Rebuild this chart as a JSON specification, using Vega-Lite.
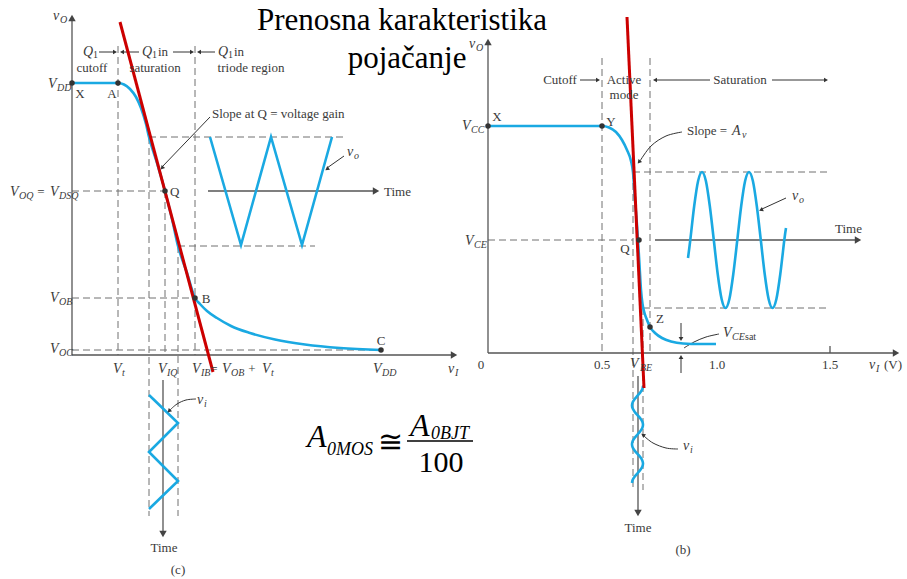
{
"$schema": "https://vega.github.io/schema/vega-lite/v6.json",
"width": 907, "height": 579,
"autosize": {"type": "fit", "contains": "padding"},
"padding": 0,
"background": "white",
"config": {"view": {"stroke": null}, "text": {"font": "'Liberation Serif', 'Times New Roman', 'DejaVu Serif', serif"}},
"datasets": {
"lines": [
{"g":"axis","id":"ay1","i":0,"x":72,"y":355},{"g":"axis","id":"ay1","i":1,"x":72,"y":17},
{"g":"axis","id":"ax1","i":0,"x":72,"y":355},{"g":"axis","id":"ax1","i":1,"x":455,"y":355},
{"g":"axis","id":"at1","i":0,"x":208,"y":191},{"g":"axis","id":"at1","i":1,"x":377,"y":191},
{"g":"axis","id":"av1","i":0,"x":163,"y":380},{"g":"axis","id":"av1","i":1,"x":163,"y":535},
{"g":"axis","id":"ay2","i":0,"x":488,"y":353},{"g":"axis","id":"ay2","i":1,"x":488,"y":41},
{"g":"axis","id":"ax2","i":0,"x":488,"y":353},{"g":"axis","id":"ax2","i":1,"x":897,"y":353},
{"g":"axis","id":"at2","i":0,"x":655,"y":240},{"g":"axis","id":"at2","i":1,"x":859,"y":240},
{"g":"axis","id":"av2","i":0,"x":638,"y":376},{"g":"axis","id":"av2","i":1,"x":638,"y":514},
{"g":"axis","id":"tk","i":0,"x":830,"y":353},{"g":"axis","id":"tk","i":1,"x":830,"y":346},
{"g":"dash","id":"d1","i":0,"x":118,"y":46},{"g":"dash","id":"d1","i":1,"x":118,"y":355},
{"g":"dash","id":"d2","i":0,"x":195,"y":46},{"g":"dash","id":"d2","i":1,"x":195,"y":355},
{"g":"dash","id":"d3","i":0,"x":72,"y":191},{"g":"dash","id":"d3","i":1,"x":163,"y":191},
{"g":"dash","id":"d4","i":0,"x":72,"y":298},{"g":"dash","id":"d4","i":1,"x":195,"y":298},
{"g":"dash","id":"d5","i":0,"x":72,"y":350},{"g":"dash","id":"d5","i":1,"x":381,"y":350},
{"g":"dash","id":"d6","i":0,"x":165,"y":191},{"g":"dash","id":"d6","i":1,"x":165,"y":355},
{"g":"dash","id":"d7","i":0,"x":149,"y":137},{"g":"dash","id":"d7","i":1,"x":149,"y":516},
{"g":"dash","id":"d8","i":0,"x":178,"y":246},{"g":"dash","id":"d8","i":1,"x":178,"y":516},
{"g":"dash","id":"d9","i":0,"x":149,"y":137},{"g":"dash","id":"d9","i":1,"x":343,"y":137},
{"g":"dash","id":"d10","i":0,"x":178,"y":246},{"g":"dash","id":"d10","i":1,"x":315,"y":246},
{"g":"dash","id":"e1","i":0,"x":602,"y":58},{"g":"dash","id":"e1","i":1,"x":602,"y":353},
{"g":"dash","id":"e2","i":0,"x":650,"y":58},{"g":"dash","id":"e2","i":1,"x":650,"y":353},
{"g":"dash","id":"e3","i":0,"x":488,"y":240},{"g":"dash","id":"e3","i":1,"x":633,"y":240},
{"g":"dash","id":"e4","i":0,"x":633,"y":172},{"g":"dash","id":"e4","i":1,"x":828,"y":172},
{"g":"dash","id":"e5","i":0,"x":643,"y":308},{"g":"dash","id":"e5","i":1,"x":828,"y":308},
{"g":"dash","id":"e6","i":0,"x":633,"y":172},{"g":"dash","id":"e6","i":1,"x":633,"y":490},
{"g":"dash","id":"e7","i":0,"x":643,"y":308},{"g":"dash","id":"e7","i":1,"x":643,"y":490},
{"g":"blue","id":"tw","i":0,"x":210,"y":137},{"g":"blue","id":"tw","i":1,"x":241,"y":245},{"g":"blue","id":"tw","i":2,"x":271,"y":137},{"g":"blue","id":"tw","i":3,"x":302,"y":245},{"g":"blue","id":"tw","i":4,"x":332,"y":137},
{"g":"blue","id":"ti","i":0,"x":149,"y":395},{"g":"blue","id":"ti","i":1,"x":178,"y":423},{"g":"blue","id":"ti","i":2,"x":149,"y":452},{"g":"blue","id":"ti","i":3,"x":178,"y":481},{"g":"blue","id":"ti","i":4,"x":149,"y":509},
{"g":"bluem","id":"cl","i":0,"x":72,"y":83},{"g":"bluem","id":"cl","i":1,"x":118,"y":83},{"g":"bluem","id":"cl","i":2,"x":124,"y":84.5},{"g":"bluem","id":"cl","i":3,"x":130,"y":89},{"g":"bluem","id":"cl","i":4,"x":136,"y":97},{"g":"bluem","id":"cl","i":5,"x":141,"y":108},{"g":"bluem","id":"cl","i":6,"x":146,"y":124},{"g":"bluem","id":"cl","i":7,"x":149,"y":137},{"g":"bluem","id":"cl","i":8,"x":157,"y":163},{"g":"bluem","id":"cl","i":9,"x":165,"y":191},{"g":"bluem","id":"cl","i":10,"x":172,"y":219},{"g":"bluem","id":"cl","i":11,"x":178,"y":246},{"g":"bluem","id":"cl","i":12,"x":187,"y":273},{"g":"bluem","id":"cl","i":13,"x":195,"y":298},{"g":"bluem","id":"cl","i":14,"x":200,"y":304},{"g":"bluem","id":"cl","i":15,"x":207,"y":311},{"g":"bluem","id":"cl","i":16,"x":217,"y":318},{"g":"bluem","id":"cl","i":17,"x":231,"y":326},{"g":"bluem","id":"cl","i":18,"x":250,"y":333},{"g":"bluem","id":"cl","i":19,"x":275,"y":339.5},{"g":"bluem","id":"cl","i":20,"x":305,"y":344.5},{"g":"bluem","id":"cl","i":21,"x":340,"y":348},{"g":"bluem","id":"cl","i":22,"x":381,"y":350},
{"g":"bluem","id":"cr","i":0,"x":488,"y":126},{"g":"bluem","id":"cr","i":1,"x":602,"y":126},{"g":"bluem","id":"cr","i":2,"x":609,"y":127.5},{"g":"bluem","id":"cr","i":3,"x":616,"y":132},{"g":"bluem","id":"cr","i":4,"x":622,"y":140},{"g":"bluem","id":"cr","i":5,"x":627,"y":150},{"g":"bluem","id":"cr","i":6,"x":631,"y":161},{"g":"bluem","id":"cr","i":7,"x":633,"y":172},{"g":"bluem","id":"cr","i":8,"x":635,"y":200},{"g":"bluem","id":"cr","i":9,"x":637,"y":225},{"g":"bluem","id":"cr","i":10,"x":638,"y":240},{"g":"bluem","id":"cr","i":11,"x":639.5,"y":265},{"g":"bluem","id":"cr","i":12,"x":641,"y":290},{"g":"bluem","id":"cr","i":13,"x":642.5,"y":304},{"g":"bluem","id":"cr","i":14,"x":644.5,"y":313},{"g":"bluem","id":"cr","i":15,"x":647,"y":320},{"g":"bluem","id":"cr","i":16,"x":650,"y":327},{"g":"bluem","id":"cr","i":17,"x":655,"y":333},{"g":"bluem","id":"cr","i":18,"x":662,"y":338},{"g":"bluem","id":"cr","i":19,"x":671,"y":341.5},{"g":"bluem","id":"cr","i":20,"x":683,"y":343.5},{"g":"bluem","id":"cr","i":21,"x":700,"y":344},{"g":"bluem","id":"cr","i":22,"x":716,"y":344},
{"g":"bluec","id":"vo","i":0,"x":688,"y":258},{"g":"bluec","id":"vo","i":1,"x":690.3,"y":240},{"g":"bluec","id":"vo","i":2,"x":694.2,"y":206},{"g":"bluec","id":"vo","i":3,"x":698.1,"y":181},{"g":"bluec","id":"vo","i":4,"x":702,"y":172},{"g":"bluec","id":"vo","i":5,"x":705.9,"y":181},{"g":"bluec","id":"vo","i":6,"x":709.8,"y":206},{"g":"bluec","id":"vo","i":7,"x":713.8,"y":240},{"g":"bluec","id":"vo","i":8,"x":717.7,"y":274},{"g":"bluec","id":"vo","i":9,"x":721.6,"y":299},{"g":"bluec","id":"vo","i":10,"x":725.5,"y":308},{"g":"bluec","id":"vo","i":11,"x":729.4,"y":299},{"g":"bluec","id":"vo","i":12,"x":733.3,"y":274},{"g":"bluec","id":"vo","i":13,"x":737.3,"y":240},{"g":"bluec","id":"vo","i":14,"x":741.2,"y":206},{"g":"bluec","id":"vo","i":15,"x":745.1,"y":181},{"g":"bluec","id":"vo","i":16,"x":749,"y":172},{"g":"bluec","id":"vo","i":17,"x":752.9,"y":181},{"g":"bluec","id":"vo","i":18,"x":756.8,"y":206},{"g":"bluec","id":"vo","i":19,"x":760.8,"y":240},{"g":"bluec","id":"vo","i":20,"x":764.7,"y":274},{"g":"bluec","id":"vo","i":21,"x":768.6,"y":299},{"g":"bluec","id":"vo","i":22,"x":772.5,"y":308},{"g":"bluec","id":"vo","i":23,"x":776.4,"y":299},{"g":"bluec","id":"vo","i":24,"x":780.3,"y":274},{"g":"bluec","id":"vo","i":25,"x":784.3,"y":240},{"g":"bluec","id":"vo","i":26,"x":786,"y":228},
{"g":"bluec","id":"vi","i":0,"x":643,"y":386},{"g":"bluec","id":"vi","i":1,"x":642.3,"y":389.2},{"g":"bluec","id":"vi","i":2,"x":640.25,"y":392.5},{"g":"bluec","id":"vi","i":3,"x":637.5,"y":395.7},{"g":"bluec","id":"vi","i":4,"x":634.75,"y":398.9},{"g":"bluec","id":"vi","i":5,"x":632.7,"y":402.2},{"g":"bluec","id":"vi","i":6,"x":632,"y":405.4},{"g":"bluec","id":"vi","i":7,"x":632.7,"y":408.6},{"g":"bluec","id":"vi","i":8,"x":634.75,"y":411.9},{"g":"bluec","id":"vi","i":9,"x":637.5,"y":415.1},{"g":"bluec","id":"vi","i":10,"x":640.25,"y":418.3},{"g":"bluec","id":"vi","i":11,"x":642.3,"y":421.6},{"g":"bluec","id":"vi","i":12,"x":643,"y":424.8},{"g":"bluec","id":"vi","i":13,"x":642.3,"y":428},{"g":"bluec","id":"vi","i":14,"x":640.25,"y":431.3},{"g":"bluec","id":"vi","i":15,"x":637.5,"y":434.5},{"g":"bluec","id":"vi","i":16,"x":634.75,"y":437.7},{"g":"bluec","id":"vi","i":17,"x":632.7,"y":441},{"g":"bluec","id":"vi","i":18,"x":632,"y":444.2},{"g":"bluec","id":"vi","i":19,"x":632.7,"y":447.4},{"g":"bluec","id":"vi","i":20,"x":634.75,"y":450.7},{"g":"bluec","id":"vi","i":21,"x":637.5,"y":453.9},{"g":"bluec","id":"vi","i":22,"x":640.25,"y":457.1},{"g":"bluec","id":"vi","i":23,"x":642.3,"y":460.4},{"g":"bluec","id":"vi","i":24,"x":643,"y":463.6},{"g":"bluec","id":"vi","i":25,"x":642.3,"y":466.8},{"g":"bluec","id":"vi","i":26,"x":640.25,"y":470.1},{"g":"bluec","id":"vi","i":27,"x":637.5,"y":473.3},{"g":"bluec","id":"vi","i":28,"x":634.75,"y":476.5},{"g":"bluec","id":"vi","i":29,"x":632.7,"y":479.8},{"g":"bluec","id":"vi","i":30,"x":632,"y":483},
{"g":"red","id":"r1","i":0,"x":120,"y":22},{"g":"red","id":"r1","i":1,"x":213,"y":372},
{"g":"red","id":"r2","i":0,"x":627,"y":17},{"g":"red","id":"r2","i":1,"x":644,"y":388},
{"g":"note","id":"n1","i":0,"x":210,"y":117},{"g":"note","id":"n1","i":1,"x":162,"y":167},
{"g":"note","id":"n2","i":0,"x":344,"y":156},{"g":"note","id":"n2","i":1,"x":327,"y":168},
{"g":"note","id":"n3","i":0,"x":196,"y":399},{"g":"note","id":"n3","i":1,"x":186,"y":400},{"g":"note","id":"n3","i":2,"x":177,"y":404},{"g":"note","id":"n3","i":3,"x":170,"y":410},
{"g":"note","id":"n4a","i":0,"x":99,"y":52},{"g":"note","id":"n4a","i":1,"x":115,"y":52},
{"g":"note","id":"n4b","i":0,"x":139,"y":52},{"g":"note","id":"n4b","i":1,"x":122,"y":52},
{"g":"note","id":"n4c","i":0,"x":173,"y":52},{"g":"note","id":"n4c","i":1,"x":192,"y":52},
{"g":"note","id":"n4d","i":0,"x":215,"y":52},{"g":"note","id":"n4d","i":1,"x":199,"y":52},
{"g":"note","id":"n5","i":0,"x":682,"y":132},{"g":"note","id":"n5","i":1,"x":666,"y":136},{"g":"note","id":"n5","i":2,"x":651,"y":146},{"g":"note","id":"n5","i":3,"x":640,"y":161},
{"g":"note","id":"n6","i":0,"x":786,"y":198},{"g":"note","id":"n6","i":1,"x":762,"y":209},
{"g":"note","id":"n7","i":0,"x":678,"y":449},{"g":"note","id":"n7","i":1,"x":666,"y":448},{"g":"note","id":"n7","i":2,"x":653,"y":443},{"g":"note","id":"n7","i":3,"x":644,"y":436},
{"g":"note","id":"n8a","i":0,"x":580,"y":80},{"g":"note","id":"n8a","i":1,"x":598,"y":80},
{"g":"note","id":"n8b","i":0,"x":710,"y":80},{"g":"note","id":"n8b","i":1,"x":655,"y":80},
{"g":"note","id":"n8c","i":0,"x":772,"y":80},{"g":"note","id":"n8c","i":1,"x":826,"y":80},
{"g":"note","id":"n9a","i":0,"x":681,"y":323},{"g":"note","id":"n9a","i":1,"x":681,"y":339},
{"g":"note","id":"n9b","i":0,"x":681,"y":373},{"g":"note","id":"n9b","i":1,"x":681,"y":357},
{"g":"note","id":"n9c","i":0,"x":684,"y":348},{"g":"note","id":"n9c","i":1,"x":694,"y":342},{"g":"note","id":"n9c","i":2,"x":706,"y":337},{"g":"note","id":"n9c","i":3,"x":719,"y":334},
{"g":"frac","id":"fb","i":0,"x":407,"y":441},{"g":"frac","id":"fb","i":1,"x":473,"y":441}
],
"heads": [
{"g":"ax","x":72,"y":18,"dir":0},{"g":"ax","x":454,"y":355,"dir":90},{"g":"ax","x":376,"y":191,"dir":90},{"g":"ax","x":163,"y":534,"dir":180},
{"g":"ax","x":488,"y":42,"dir":0},{"g":"ax","x":896,"y":353,"dir":90},{"g":"ax","x":858,"y":240,"dir":90},{"g":"ax","x":638,"y":513,"dir":180},
{"g":"nt","x":162,"y":168,"dir":222},{"g":"nt","x":327,"y":169,"dir":234},{"g":"nt","x":169,"y":411,"dir":225},
{"g":"nt","x":115,"y":52,"dir":90},{"g":"nt","x":122,"y":52,"dir":270},{"g":"nt","x":192,"y":52,"dir":90},{"g":"nt","x":199,"y":52,"dir":270},
{"g":"nt","x":639,"y":162,"dir":219},{"g":"nt","x":761,"y":210,"dir":245},{"g":"nt","x":643,"y":435,"dir":305},
{"g":"nt","x":598,"y":80,"dir":90},{"g":"nt","x":655,"y":80,"dir":270},{"g":"nt","x":826,"y":80,"dir":90},
{"g":"nt","x":681,"y":339,"dir":180},{"g":"nt","x":681,"y":357,"dir":0}
],
"dots": [
{"x":72,"y":83},{"x":118,"y":83},{"x":165,"y":191},{"x":195,"y":298},{"x":381,"y":350},
{"x":488,"y":126},{"x":602,"y":126},{"x":650,"y":327},{"x":639,"y":240}
],
"texts": [
{"k":"t","t":"Prenosna karakteristika","x":402,"y":30},
{"k":"t","t":"pojačanje","x":407,"y":68},
{"k":"v","t":"v","x":53,"y":20},{"k":"s","t":"O","x":60,"y":23},
{"k":"v","t":"V","x":48,"y":88},{"k":"s","t":"DD","x":57,"y":91},
{"k":"v","t":"V","x":10,"y":196},{"k":"s","t":"OQ","x":19,"y":199},{"k":"r","t":"=","x":41,"y":196},{"k":"v","t":"V","x":50,"y":196},{"k":"s","t":"DSQ","x":59,"y":199},
{"k":"v","t":"V","x":50,"y":302},{"k":"s","t":"OB","x":59,"y":305},
{"k":"v","t":"V","x":50,"y":353},{"k":"s","t":"OC","x":59,"y":356},
{"k":"v","t":"Q","x":83,"y":56},{"k":"sr","t":"1","x":93,"y":58},
{"k":"v","t":"Q","x":142,"y":56},{"k":"sr","t":"1","x":152,"y":58},{"k":"rl","t":"in","x":158,"y":56},
{"k":"v","t":"Q","x":218,"y":56},{"k":"sr","t":"1","x":228,"y":58},{"k":"rl","t":"in","x":234,"y":56},
{"k":"r","t":"cutoff","x":92,"y":72},{"k":"r","t":"saturation","x":155,"y":72},{"k":"r","t":"triode region","x":251,"y":72},
{"k":"r","t":"X","x":80,"y":98},{"k":"r","t":"A","x":112,"y":98},
{"k":"rl","t":"Q","x":170,"y":196},{"k":"r","t":"B","x":206,"y":303},{"k":"r","t":"C","x":381,"y":345},
{"k":"rl","t":"Slope at Q = voltage gain","x":212,"y":118},
{"k":"rl","t":"Time","x":384,"y":196},
{"k":"v","t":"v","x":347,"y":156},{"k":"s","t":"o","x":354,"y":159},
{"k":"v","t":"v","x":197,"y":404},{"k":"s","t":"i","x":204,"y":407},
{"k":"r","t":"Time","x":164,"y":552},
{"k":"r","t":"(c)","x":178,"y":574},
{"k":"v","t":"V","x":113,"y":373},{"k":"s","t":"t","x":122,"y":376},
{"k":"v","t":"V","x":158,"y":373},{"k":"s","t":"IQ","x":167,"y":376},
{"k":"v","t":"V","x":192,"y":373},{"k":"s","t":"IB","x":201,"y":376},{"k":"r","t":"=","x":214,"y":373},{"k":"v","t":"V","x":222,"y":373},{"k":"s","t":"OB","x":231,"y":376},{"k":"r","t":"+","x":252,"y":373},{"k":"v","t":"V","x":262,"y":373},{"k":"s","t":"t","x":271,"y":376},
{"k":"v","t":"V","x":373,"y":373},{"k":"s","t":"DD","x":382,"y":376},
{"k":"v","t":"v","x":448,"y":373},{"k":"s","t":"I","x":455,"y":376},
{"k":"v","t":"v","x":469,"y":48},{"k":"s","t":"O","x":476,"y":51},
{"k":"v","t":"V","x":462,"y":130},{"k":"s","t":"CC","x":471,"y":133},
{"k":"v","t":"V","x":465,"y":245},{"k":"s","t":"CE","x":474,"y":248},
{"k":"r","t":"X","x":497,"y":121},{"k":"r","t":"Y","x":611,"y":126},{"k":"r","t":"Q","x":625,"y":253},{"k":"r","t":"Z","x":660,"y":323},
{"k":"r","t":"Cutoff","x":560,"y":84},{"k":"r","t":"Active","x":624,"y":84},{"k":"r","t":"mode","x":624,"y":99},{"k":"r","t":"Saturation","x":740,"y":84},
{"k":"rl","t":"Slope =","x":687,"y":135},{"k":"v","t":"A","x":732,"y":135},{"k":"s","t":"v","x":742,"y":138},
{"k":"rl","t":"Time","x":835,"y":233},
{"k":"v","t":"v","x":792,"y":200},{"k":"s","t":"o","x":799,"y":203},
{"k":"v","t":"V","x":723,"y":337},{"k":"s","t":"CE","x":732,"y":340},{"k":"sr","t":"sat","x":745,"y":340},
{"k":"r","t":"0","x":481,"y":369},{"k":"r","t":"0.5","x":602,"y":369},{"k":"r","t":"1.0","x":717,"y":369},{"k":"r","t":"1.5","x":830,"y":369},
{"k":"v","t":"V","x":630,"y":368},{"k":"s","t":"BE","x":640,"y":371},
{"k":"v","t":"v","x":869,"y":369},{"k":"s","t":"I","x":876,"y":372},{"k":"rl","t":"(V)","x":884,"y":369},
{"k":"v","t":"v","x":683,"y":450},{"k":"s","t":"i","x":690,"y":453},
{"k":"r","t":"Time","x":638,"y":532},
{"k":"r","t":"(b)","x":683,"y":554},
{"k":"fA","t":"A","x":307,"y":447},{"k":"fs","t":"0MOS","x":327,"y":455},{"k":"fr","t":"≅","x":390,"y":452},
{"k":"fA","t":"A","x":410,"y":436},{"k":"fs","t":"0BJT","x":431,"y":439},{"k":"fr","t":"100","x":441,"y":472}
]
},
"encoding": {
"x": {"field": "x", "type": "quantitative", "scale": {"domain": [0, 907], "nice": false, "zero": false}, "axis": null},
"y": {"field": "y", "type": "quantitative", "scale": {"domain": [0, 579], "reverse": true, "nice": false, "zero": false}, "axis": null}
},
"layer": [
{"data": {"name": "lines"}, "transform": [{"filter": "datum.g === 'dash'"}], "mark": {"type": "line", "color": "#707070", "strokeWidth": 1, "strokeDash": [7, 4]}, "encoding": {"detail": {"field": "id", "type": "nominal"}, "order": {"field": "i", "type": "quantitative"}}},
{"data": {"name": "lines"}, "transform": [{"filter": "datum.g === 'axis'"}], "mark": {"type": "line", "color": "#555555", "strokeWidth": 1.3}, "encoding": {"detail": {"field": "id", "type": "nominal"}, "order": {"field": "i", "type": "quantitative"}}},
{"data": {"name": "lines"}, "transform": [{"filter": "datum.g === 'note'"}], "mark": {"type": "line", "color": "#333333", "strokeWidth": 1, "interpolate": "cardinal"}, "encoding": {"detail": {"field": "id", "type": "nominal"}, "order": {"field": "i", "type": "quantitative"}}},
{"data": {"name": "lines"}, "transform": [{"filter": "datum.g === 'frac'"}], "mark": {"type": "line", "color": "#000000", "strokeWidth": 1.4}, "encoding": {"detail": {"field": "id", "type": "nominal"}, "order": {"field": "i", "type": "quantitative"}}},
{"data": {"name": "lines"}, "transform": [{"filter": "datum.g === 'blue'"}], "mark": {"type": "line", "color": "#1aa9e2", "strokeWidth": 2.6, "strokeJoin": "miter"}, "encoding": {"detail": {"field": "id", "type": "nominal"}, "order": {"field": "i", "type": "quantitative"}}},
{"data": {"name": "lines"}, "transform": [{"filter": "datum.g === 'bluem'"}], "mark": {"type": "line", "color": "#1aa9e2", "strokeWidth": 2.6, "interpolate": "monotone"}, "encoding": {"detail": {"field": "id", "type": "nominal"}, "order": {"field": "i", "type": "quantitative"}}},
{"data": {"name": "lines"}, "transform": [{"filter": "datum.g === 'bluec'"}], "mark": {"type": "line", "color": "#1aa9e2", "strokeWidth": 2.6, "interpolate": "cardinal"}, "encoding": {"detail": {"field": "id", "type": "nominal"}, "order": {"field": "i", "type": "quantitative"}}},
{"data": {"name": "lines"}, "transform": [{"filter": "datum.g === 'red'"}], "mark": {"type": "line", "color": "#cc0000", "strokeWidth": 3}, "encoding": {"detail": {"field": "id", "type": "nominal"}, "order": {"field": "i", "type": "quantitative"}}},
{"data": {"name": "dots"}, "mark": {"type": "point", "filled": true, "color": "#333333", "size": 30, "opacity": 1}},
{"data": {"name": "heads"}, "transform": [{"filter": "datum.g === 'ax'"}], "mark": {"type": "point", "shape": "triangle-up", "filled": true, "color": "#444444", "size": 55, "opacity": 1}, "encoding": {"angle": {"field": "dir", "type": "quantitative", "scale": null}}},
{"data": {"name": "heads"}, "transform": [{"filter": "datum.g === 'nt'"}], "mark": {"type": "point", "shape": "triangle-up", "filled": true, "color": "#333333", "size": 22, "opacity": 1}, "encoding": {"angle": {"field": "dir", "type": "quantitative", "scale": null}}},
{"data": {"name": "texts"}, "transform": [{"filter": "datum.k === 'v'"}], "mark": {"type": "text", "fontStyle": "italic", "fontSize": 14, "align": "left", "baseline": "alphabetic", "color": "#3a3a3a"}, "encoding": {"text": {"field": "t", "type": "nominal"}}},
{"data": {"name": "texts"}, "transform": [{"filter": "datum.k === 's'"}], "mark": {"type": "text", "fontStyle": "italic", "fontSize": 10, "align": "left", "baseline": "alphabetic", "color": "#3a3a3a"}, "encoding": {"text": {"field": "t", "type": "nominal"}}},
{"data": {"name": "texts"}, "transform": [{"filter": "datum.k === 'sr'"}], "mark": {"type": "text", "fontSize": 10, "align": "left", "baseline": "alphabetic", "color": "#3a3a3a"}, "encoding": {"text": {"field": "t", "type": "nominal"}}},
{"data": {"name": "texts"}, "transform": [{"filter": "datum.k === 'r'"}], "mark": {"type": "text", "fontSize": 13, "align": "center", "baseline": "alphabetic", "color": "#3a3a3a"}, "encoding": {"text": {"field": "t", "type": "nominal"}}},
{"data": {"name": "texts"}, "transform": [{"filter": "datum.k === 'rl'"}], "mark": {"type": "text", "fontSize": 13, "align": "left", "baseline": "alphabetic", "color": "#3a3a3a"}, "encoding": {"text": {"field": "t", "type": "nominal"}}},
{"data": {"name": "texts"}, "transform": [{"filter": "datum.k === 't'"}], "mark": {"type": "text", "fontSize": 31, "align": "center", "baseline": "alphabetic", "color": "#000000"}, "encoding": {"text": {"field": "t", "type": "nominal"}}},
{"data": {"name": "texts"}, "transform": [{"filter": "datum.k === 'fA'"}], "mark": {"type": "text", "fontStyle": "italic", "fontSize": 32, "align": "left", "baseline": "alphabetic", "color": "#000000"}, "encoding": {"text": {"field": "t", "type": "nominal"}}},
{"data": {"name": "texts"}, "transform": [{"filter": "datum.k === 'fs'"}], "mark": {"type": "text", "fontStyle": "italic", "fontSize": 18, "align": "left", "baseline": "alphabetic", "color": "#000000"}, "encoding": {"text": {"field": "t", "type": "nominal"}}},
{"data": {"name": "texts"}, "transform": [{"filter": "datum.k === 'fr'"}], "mark": {"type": "text", "fontSize": 30, "align": "center", "baseline": "alphabetic", "color": "#000000"}, "encoding": {"text": {"field": "t", "type": "nominal"}}}
]
}
